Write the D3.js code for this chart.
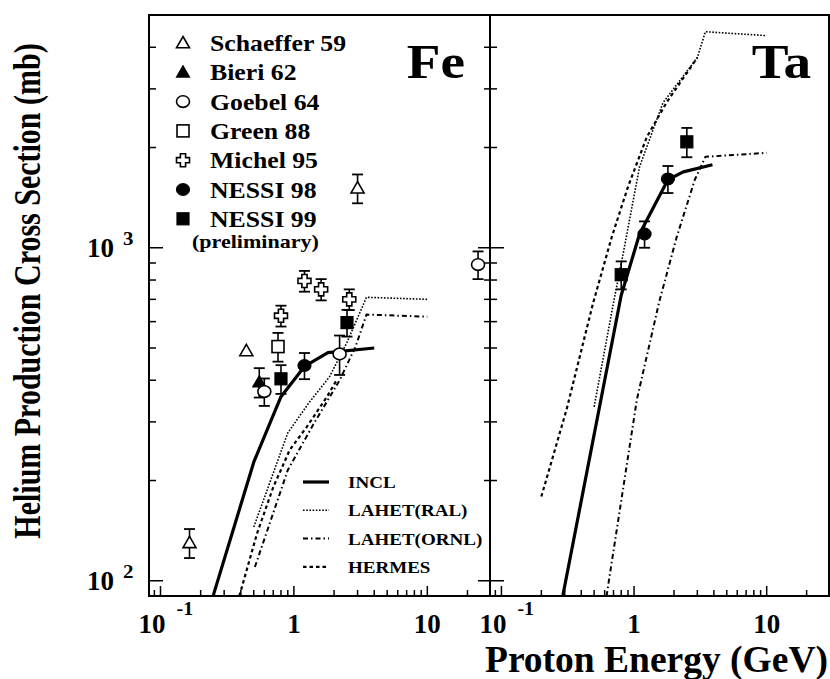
<!DOCTYPE html>
<html><head><meta charset="utf-8">
<script src="https://cdn.jsdelivr.net/npm/d3@7"></script>
<style>
body{margin:0;background:#fff}
text{font-family:"Liberation Serif","Times New Roman",serif;font-weight:bold;fill:#000}
</style>
</head><body>
<svg id="c" width="830" height="679"></svg>
<script>
// ---------------- data ----------------
const panelNames = ["Fe", "Ta"];
const xDomain = [0.082, 29.5];
const yDomain = [90, 5000];
const xMajorTicks = [0.1, 1, 10];
const xTickBase = ["10", "1", "10"];
const xTickSup = ["-1", "", ""];
const yMajorTicks = [100, 1000];
const yTickBase = ["10", "10"];
const yTickSup = ["2", "3"];
const yTitle = "Helium Production Cross Section (mb)";
const xTitle = "Proton Energy (GeV)";

// experimental data [energy GeV, sigma mb, error mb]
const feSchaeffer59 = [[0.165, 130, 13], [0.44, 490, 0], [3.0, 1510, 150]];
const feBieri62     = [[0.55, 395, 40]];
const feGoebel64    = [[0.6, 370, 35], [2.2, 480, 65], [24, 890, 85]];
const feGreen88     = [[0.76, 505, 50]];
const feMichel95    = [[0.8, 625, 45], [1.2, 795, 57], [1.6, 750, 55], [2.6, 700, 50]];
const feNessi98     = [[1.2, 443, 40]];
const feNessi99     = [[0.8, 404, 40], [2.5, 596, 55]];
const taNessi98     = [[1.2, 1100, 100], [1.8, 1610, 150]];
const taNessi99     = [[0.8, 830, 80], [2.5, 2080, 210]];

// model curves [energy, sigma]
const feINCL   = [[0.2, 70], [0.25, 91], [0.5, 227], [0.63, 284], [0.8, 357], [1.2, 440], [1.8, 484], [4.0, 500]];
const feRAL    = [[0.5, 145], [0.9, 278], [1.3, 343], [1.85, 410], [2.5, 520], [3.5, 710], [10, 700]];
const feORNL   = [[0.51, 110], [0.9, 215], [1.4, 295], [2.2, 400], [2.9, 505], [3.5, 630], [10, 621]];
const feHERMES = [[0.39, 90], [0.53, 139], [0.7, 191], [0.93, 247], [1.25, 290], [1.77, 357], [2.1, 402]];
const taINCL   = [[0.29, 90], [0.8, 720], [1.1, 1100], [1.8, 1600], [2.35, 1690], [3.9, 1775]];
const taRAL    = [[0.5, 333], [0.7, 684], [0.83, 966], [1.1, 1750], [1.65, 2724], [3.0, 3724], [3.45, 4454], [10, 4335]];
const taORNL   = [[0.62, 90], [1.05, 350], [1.55, 690], [2.1, 1079], [2.87, 1600], [3.45, 1875], [10, 1928]];
const taHERMES = [[0.2, 179], [0.31, 327], [0.49, 680], [0.68, 1079], [0.9, 1524], [1.25, 2154], [1.77, 2742], [3.0, 3724]];

const dataLegend = ["Schaeffer 59", "Bieri 62", "Goebel 64", "Green 88", "Michel 95", "NESSI 98", "NESSI 99"];
const modelLegend = ["INCL", "LAHET(RAL)", "LAHET(ORNL)", "HERMES"];

// ---------------- drawing ----------------
const svg = d3.select("#c");
const yTop = 15, yBot = 596;
const panelX = [[149, 490], [490, 829]];
const y = d3.scaleLog().domain(yDomain).range([yBot, yTop]);

const styles = {
  INCL:   {w: 3.2, dash: null},
  RAL:    {w: 1.6, dash: "1.6,1.6"},
  ORNL:   {w: 2.0, dash: "5,3,1.5,3"},
  HERMES: {w: 2.2, dash: "3.5,3"}
};

function txt(g, x, yy, s, size, anchor, sx) {
  return g.append("g").attr("transform", `translate(${x},${yy}) scale(${sx || 1},1)`)
    .append("text").attr("font-size", size).attr("text-anchor", anchor || "start").text(s);
}

function marker(g, type, cx, cy) {
  const s = g.append("g").attr("transform", `translate(${cx},${cy})`);
  const open = {fill: "#fff", stroke: "#000", "stroke-width": 1.6};
  const full = {fill: "#000", stroke: "#000", "stroke-width": 1.2};
  let el;
  if (type === "triOpen" || type === "triFull") {
    el = s.append("path").attr("d", "M0,-6.5L6.5,4.8L-6.5,4.8Z");
  } else if (type === "circOpen" || type === "circFull") {
    el = s.append("ellipse").attr("rx", 6.5).attr("ry", 5.8);
  } else if (type === "sqOpen" || type === "sqFull") {
    el = s.append("rect").attr("x", -6).attr("y", -6).attr("width", 12).attr("height", 12);
  } else if (type === "cross") {
    const a = 2.6, b = 6.5;
    el = s.append("path").attr("d", `M${-a},${-b}L${a},${-b}L${a},${-a}L${b},${-a}L${b},${a}L${a},${a}L${a},${b}L${-a},${b}L${-a},${a}L${-b},${a}L${-b},${-a}L${-a},${-a}Z`);
  }
  const st = (type.endsWith("Full")) ? full : open;
  Object.entries(st).forEach(([k, v]) => el.attr(k, v));
}

function drawPanel(i) {
  const [x0, x1] = panelX[i];
  const x = d3.scaleLog().domain(xDomain).range([x0, x1]);
  const g = svg.append("g");
  const clipId = "clip" + i;
  svg.append("clipPath").attr("id", clipId).append("rect")
    .attr("x", x0).attr("y", yTop).attr("width", x1 - x0).attr("height", yBot - yTop);

  const xt = [];
  for (let d = -2; d <= 2; d++) for (let m = 1; m <= 9; m++) {
    const v = m * Math.pow(10, d);
    if (v >= xDomain[0] && v <= xDomain[1]) xt.push({v, major: m === 1});
  }
  g.selectAll(null).data(xt).enter().append("line")
    .attr("x1", d => x(d.v)).attr("x2", d => x(d.v))
    .attr("y1", yBot).attr("y2", d => yBot - (d.major ? 10 : 6))
    .attr("stroke", "#000").attr("stroke-width", 1.5);

  const yt = [];
  for (let d = 1; d <= 3; d++) for (let m = 1; m <= 9; m++) {
    const v = m * Math.pow(10, d);
    if (v >= yDomain[0] && v <= yDomain[1]) yt.push({v, major: m === 1});
  }
  g.selectAll(null).data(yt).enter().append("line")
    .attr("x1", x0).attr("x2", d => x0 + (d.major ? 14 : 7))
    .attr("y1", d => y(d.v)).attr("y2", d => y(d.v))
    .attr("stroke", "#000").attr("stroke-width", 1.5);
  if (i === 0) {
    g.selectAll(null).data(yt).enter().append("line")
      .attr("x1", x1).attr("x2", d => x1 - (d.major ? 12 : 6))
      .attr("y1", d => y(d.v)).attr("y2", d => y(d.v))
      .attr("stroke", "#000").attr("stroke-width", 1.5);
  }

  xMajorTicks.forEach((v, k) => {
    const px = x(v);
    if (xTickSup[k]) {
      txt(svg, px - 8.5, 633, xTickBase[k], 27, "middle", 1.0);
      txt(svg, px + 16, 615, xTickSup[k], 19, "start", 1.05);
    } else {
      txt(svg, px, 633, xTickBase[k], 27, "middle", 1.0);
    }
  });

  const line = d3.line().x(d => x(d[0])).y(d => y(d[1]));
  const curves = i === 0
    ? [[feHERMES, "HERMES"], [feORNL, "ORNL"], [feRAL, "RAL"], [feINCL, "INCL"]]
    : [[taHERMES, "HERMES"], [taORNL, "ORNL"], [taRAL, "RAL"], [taINCL, "INCL"]];
  const cg = svg.append("g").attr("clip-path", `url(#${clipId})`);
  curves.forEach(([data, key]) => {
    const st = styles[key];
    cg.append("path").datum(data).attr("d", line).attr("fill", "none")
      .attr("stroke", "#000").attr("stroke-width", st.w)
      .attr("stroke-dasharray", st.dash).attr("stroke-linejoin", "round");
  });

  const sets = i === 0
    ? [[feSchaeffer59, "triOpen"], [feBieri62, "triFull"], [feGoebel64, "circOpen"], [feGreen88, "sqOpen"],
       [feMichel95, "cross"], [feNessi98, "circFull"], [feNessi99, "sqFull"]]
    : [[taNessi98, "circFull"], [taNessi99, "sqFull"]];
  const pg = svg.append("g");
  sets.forEach(([data, type]) => {
    data.forEach(d => {
      const px = x(d[0]);
      if (d[2] > 0) {
        const ya = y(d[1] + d[2]), yb = y(d[1] - d[2]);
        pg.append("line").attr("x1", px).attr("x2", px).attr("y1", ya).attr("y2", yb)
          .attr("stroke", "#000").attr("stroke-width", 1.6);
        [ya, yb].forEach(yy => pg.append("line").attr("x1", px - 5.5).attr("x2", px + 5.5)
          .attr("y1", yy).attr("y2", yy).attr("stroke", "#000").attr("stroke-width", 1.8));
      }
      marker(pg, type, px, y(d[1]));
    });
  });

  svg.append("rect").attr("x", x0).attr("y", yTop).attr("width", x1 - x0).attr("height", yBot - yTop)
    .attr("fill", "none").attr("stroke", "#000").attr("stroke-width", 2);

  txt(svg, i === 0 ? 465 : 811, 78, panelNames[i], 48, "end", 1.15);
}

drawPanel(0);
drawPanel(1);

yMajorTicks.forEach((v, k) => {
  const py = y(v);
  txt(svg, 87, py + 9, yTickBase[k], 27, "start", 1.0);
  txt(svg, 123, py - 3, yTickSup[k], 19, "start", 1.1);
});

svg.append("g").attr("transform", "translate(40,291) scale(1.25,1) rotate(-90)")
  .append("text").attr("font-size", 30).attr("text-anchor", "middle").text(yTitle);
txt(svg, 828, 672, xTitle, 37.5, "end", 1.0);

const legTypes = ["triOpen", "triFull", "circOpen", "sqOpen", "cross", "circFull", "sqFull"];
const legY0 = 43, legDY = 29.3;
dataLegend.forEach((s, k) => {
  const cy = legY0 + k * legDY;
  marker(svg, legTypes[k], 183, cy);
  txt(svg, 210, cy + 8, s, 23, "start", 1.12);
});
txt(svg, 192, legY0 + 6 * legDY + 29, "(preliminary)", 19, "start", 1.16);

const mKeys = ["INCL", "RAL", "ORNL", "HERMES"];
modelLegend.forEach((s, k) => {
  const cy = 482 + k * 28.3;
  const st = styles[mKeys[k]];
  svg.append("line").attr("x1", 303).attr("x2", 329).attr("y1", cy).attr("y2", cy)
    .attr("stroke", "#000").attr("stroke-width", st.w).attr("stroke-dasharray", st.dash);
  txt(svg, 348, cy + 6, s, 17, "start", 1.12);
});
</script>
</body></html>
